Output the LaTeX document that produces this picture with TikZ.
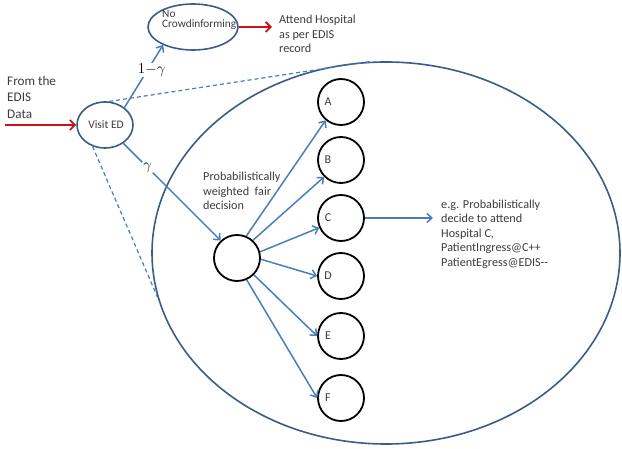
\documentclass[tikz,border=0pt]{standalone}
\usepackage{fontspec}
\setmainfont{Carlito}
\usepackage{fix-cm}
\usetikzlibrary{shapes.geometric,arrows.meta}
\definecolor{edgeblue}{RGB}{56,93,138}
\definecolor{arrblue}{RGB}{74,126,187}
\definecolor{arrred}{RGB}{200,20,20}
\definecolor{txtgray}{RGB}{60,60,60}
\begin{document}
\begin{tikzpicture}[x=1pt,y=-1pt,
  oval/.style={ellipse, draw=edgeblue, line width=1.6pt, inner sep=0pt},
  site/.style={circle, draw=black, line width=1.8pt, minimum size=46pt, inner sep=0pt},
  barrow/.style={draw=arrblue, line width=1.5pt, -{Straight Barb[length=5pt,width=9pt]}},
  rarrow/.style={draw=arrred, line width=1.8pt, -{Straight Barb[length=5pt,width=10pt]}},
  txt/.style={font=\fontsize{12.2}{14.5}\selectfont, text=txtgray, align=left, inner sep=0pt},
  lett/.style={font=\fontsize{12}{13}\selectfont, text=txtgray, inner sep=0pt},
  glab/.style={font=\fontsize{15}{17}\selectfont, fill=white, inner sep=1pt},
  dashline/.style={draw=arrblue, line width=1.2pt, dash pattern=on 4pt off 3pt}]
\path[use as bounding box] (0,0) rectangle (622,449);

% main ellipses
\node[oval, minimum width=468pt, minimum height=382pt] (big) at (386,253) {};
\node[oval, minimum width=56pt, minimum height=46pt] (visit) at (105,125) {};
\node[txt, font=\fontsize{11.5}{13}\selectfont] (visittxt) at (106,125) {Visit ED};
\node[oval, minimum width=90pt, minimum height=46pt] (nocrowd) at (193,27) {};
\node[txt, anchor=west, font=\fontsize{11.3}{10.5}\selectfont] (nocrowdtxt) at (162,20) {No\\Crowdinforming};

% texts
\node[txt, anchor=west, font=\fontsize{13.2}{16.5}\selectfont] (fromtxt) at (7,97) {From the\\EDIS\\Data};
\node[txt, anchor=west] (attend) at (279,34) {Attend Hospital\\as per EDIS\\record};
\node[txt, anchor=west] (dectxt) at (203,191) {Probabilistically\\weighted\ \ fair\\decision};
\node[txt, anchor=west] (ctxt) at (441,234) {e.g. Probabilistically\\decide to attend\\Hospital C,\\PatientIngress@C++\\PatientEgress@EDIS-{}-};

% decision and hospitals
\node[site] (dec) at (237,258) {};
\node[site] (A) at (341,102) {};
\node[site] (B) at (341,160) {};
\node[site] (C) at (341,218) {};
\node[site] (D) at (341,276) {};
\node[site] (E) at (341,336) {};
\node[site] (F) at (341,398) {};
\node[lett] (la) at (328,102) {A};
\node[lett] (lb) at (328,160) {B};
\node[lett] (lc) at (328,218) {C};
\node[lett] (ld) at (328,276) {D};
\node[lett] (le) at (328,336) {E};
\node[lett] (lf) at (328,398) {F};

% dashed lines
\draw[dashline] (visit.80) -- (big.95);
\draw[dashline] (visit.240) -- (big.191);

% red arrows
\coordinate (src) at (5,125);
\draw[rarrow] (src) -- (visit);
\draw[rarrow, shorten >=7pt] (nocrowd.east) -- (nocrowd.east -| attend.west);

% blue arrows
\draw[barrow] (visit.42) -- node[glab, pos=0.6, xshift=4pt] {$1{-}\gamma$} (nocrowd.211);
\draw[barrow] (visit.-45) -- node[glab, pos=0.25] {$\gamma$} (dec.133);
\draw[barrow] (dec.67) -- (A.230);
\draw[barrow] (dec.48) -- (B.225);
\draw[barrow] (dec.15) -- (C.204);
\draw[barrow] (dec.-3) -- (D.180);
\draw[barrow] (dec.-45) -- (E.180);
\draw[barrow] (dec.-66) -- (F.180);
\draw[barrow, shorten >=8pt] (C.east) -- (C.east -| ctxt.west);
\end{tikzpicture}
\end{document}
